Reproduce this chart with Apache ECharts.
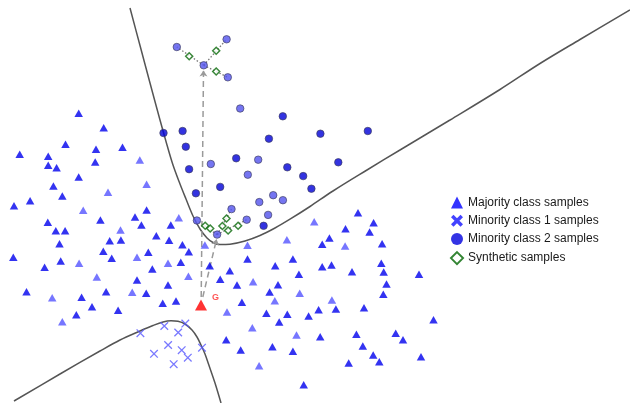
<!DOCTYPE html>
<html>
<head>
<meta charset="utf-8">
<script src="https://cdn.jsdelivr.net/npm/echarts@6/dist/echarts.min.js"></script>
<style>
  html, body { margin: 0; padding: 0; background: #fff; }
  #chart { width: 630px; height: 403px; }
</style>
</head>
<body>
<div id="chart"></div>
<script>
// Feature-space coordinates (x to the right, y downward).
const majorityDark = [
  [78.7,113.3],[103.7,127.7],[65.5,144.3],[96,149.3],[122.5,147.3],[19.7,154.3],[48.2,156.3],
  [48.2,165.3],[56.6,167.7],[95.2,162],[78.7,177],[53.4,186],[62.3,196],[14,205.7],[30.1,200.7],
  [146.6,210],[135,217],[141.4,225],[170.8,225],[100.4,220],[47.8,222.3],[55.8,230.7],[65.1,230.7],
  [59.5,243.7],[109.7,240.7],[120.9,240],[156.3,235.7],[169.1,240.3],[182.4,244.7],[13.3,257.3],
  [44.6,267.3],[60.7,261],[103.3,251.3],[111.7,258.3],[148.3,252.3],[180.8,262.3],[188.8,251.7],
  [152.3,269],[137,280],[168,285],[26.5,291.7],[81.6,297.3],[106.1,291.7],[146.2,293.3],[92,306.7],
  [76.3,314.7],[118.1,310.3],[162.7,303.3],[176,301],
  [358,212.7],[373.6,222.7],[345.5,228.7],[369.6,232],[329.4,238],[322.2,244.3],[382.1,243.7],
  [209.7,265.7],[229.8,270.7],[247.5,259],[275.2,265.7],[292.9,259],[298.9,274.3],[322.2,266.7],
  [331.5,265],[352,271.7],[381.3,263.3],[383.7,272],[386.5,284],[383.3,294.3],[419,274.3],
  [220.2,279.3],[237,285],[278,284.7],[269.6,292],[241.9,302.3],[266.4,313.3],[279.2,322],
  [287.3,314.3],[308.6,316],[318.6,309.7],[335.9,309],[364,307.7],[433.5,319.7],[320.2,336.7],
  [356.4,334.3],[395.7,333.3],[403,339.7],[362.8,346],[226.2,339.7],[240.7,350],[272.4,346.7],
  [292.9,351.3],[348.7,363],[373.2,355],[379.3,361.7],[421,356.7],[303.7,384.7]
];
const majorityLight = [
  [139.8,160],[146.6,184.3],[108,192.3],[83.2,210.3],[178.8,217.7],[120.5,230],[204.9,245],
  [79.1,263.3],[137,257.3],[168,263.3],[96.8,277],[188.4,276.3],[52.2,297.7],[132.2,292.3],
  [62.3,321.7],[247.5,245.3],[286.9,239.7],[314.2,221.7],[345.1,246],[253.1,281.7],[299.7,293.3],
  [274.8,300.7],[227,312],[331.9,300],[252.3,327.7],[296.5,335],[259.1,365.7]
];
const minority1 = [
  [140.4,333.2],[164.3,326],[178.2,332.5],[185.3,323.6],[168.1,345],[154,353.8],
  [181.7,350.2],[187.8,357.7],[173.7,364.2],[202,347.7]
];
const minority2Dark = [
  [282.8,116.3],[163.5,133],[182.6,131],[185.8,146.7],[268.9,138.7],[320.4,133.7],[367.8,131],
  [189.1,169.2],[236.2,158.3],[287.3,167.3],[303.2,176.1],[338.3,162.3],[195.9,193.3],
  [220.2,186.9],[311.4,188.7],[263.6,225.8]
];
const minority2Light = [
  [176.8,47],[226.6,39.3],[203.7,65.3],[227.8,77.3],[240.2,108.5],[210.8,164],[258.2,159.7],
  [247.8,174.7],[259.3,202.1],[273.2,195.2],[282.9,200.2],[231.5,209.1],[196.9,220.5],
  [246.7,219.7],[268.1,214.9],[217.1,234.6]
];
const synthetic = [
  [189.2,56.2],[216.2,50.8],[216.2,71.5],[205.2,225.7],[210.2,228.5],[226.5,218.5],
  [222.4,226],[228.1,230.5],[238.1,225.7]
];
const generated = [[201, 305]];
const generatedLabel = 'G';

// Links from G to the chosen minority samples, and the interpolation segments.
const arrowLinks = [
  [[201.2, 297], [203.5, 70.5]],
  [[202.8, 297], [216.6, 239]]
];
const interpolationLinks = [
  [[203.7,65.3],[176.8,47]], [[203.7,65.3],[226.6,39.3]], [[203.7,65.3],[227.8,77.3]],
  [[217.1,234.6],[196.9,220.5]], [[217.1,234.6],[231.5,209.1]], [[217.1,234.6],[246.7,219.7]]
];

// Class boundaries (two hyperbola branches).
const upperBoundary = [
  [130,8],[140,45.5],[150,83],[160,120],[167,145],[173,165],[180,184],[186,199],[193,216],
  [200,229],[207,238],[213,242.5],[220,244.6],[230,244.2],[245,241],[260,235.5],[275,228],
  [290,219.2],[310,206.5],[333,191],[367,170],[400,150],[450,120],[500,89.5],[540,63.5],
  [580,39.5],[630,10]
];
const lowerBoundary = [
  [14,401],[60,374],[100,351],[120,340],[140,331],[153,325.5],[163,322],[171,320.8],
  [178,321.3],[185,324],[192,330],[197,337],[201,345],[205,354],[208.5,364],[215,383],[221,403]
];

const legendNames = [
  'Majority class samples',
  'Minority class 1 samples',
  'Minority class 2 samples',
  'Synthetic samples'
];

const xThin = 'path://M0.6,-0.6L10.6,9.4L9.4,10.6L-0.6,0.6ZM9.4,-0.6L10.6,0.6L0.6,10.6L-0.6,9.4Z';
const xThick = 'path://M1.3,-1.3L11.3,8.7L8.7,11.3L-1.3,1.3ZM8.7,-1.3L11.3,1.3L1.3,11.3L-1.3,8.7Z';

const DARK_BLUE = '#0000ee';
const LIGHT_BLUE = '#5454ff';

const chart = echarts.init(document.getElementById('chart'), null, { renderer: 'canvas' });

function styled(points, color) {
  return points.map(p => ({ value: p, itemStyle: { color: color } }));
}

chart.setOption({
  animation: false,
  backgroundColor: '#ffffff',
  grid: { left: 0, right: 0, top: 0, bottom: 0 },
  xAxis: { type: 'value', min: 0, max: 630, show: false },
  yAxis: { type: 'value', min: 0, max: 403, inverse: true, show: false },
  legend: {
    orient: 'vertical',
    left: 450,
    top: 196.5,
    padding: 0,
    itemWidth: 12,
    itemHeight: 12,
    itemGap: 6.2,
    selectedMode: false,
    textStyle: { fontSize: 12, color: '#1a1a1a', fontFamily: '"Liberation Sans", Arial, sans-serif' },
    data: [
      { name: legendNames[0], icon: 'triangle', itemStyle: { color: '#0000ff' } },
      { name: legendNames[1], icon: xThick, itemStyle: { color: '#1414ff', borderWidth: 0 } },
      { name: legendNames[2], icon: 'circle', itemStyle: { color: '#0000dd', borderWidth: 0 } },
      { name: legendNames[3], icon: 'diamond', itemStyle: { color: '#ffffff', borderColor: '#006600', borderWidth: 2 } }
    ]
  },
  series: [
    {
      type: 'line',
      data: upperBoundary,
      smooth: 0.35,
      symbol: 'none',
      silent: true,
      z: 1,
      lineStyle: { color: '#555555', width: 1.5 }
    },
    {
      type: 'line',
      data: lowerBoundary,
      smooth: 0.35,
      symbol: 'none',
      silent: true,
      z: 1,
      lineStyle: { color: '#555555', width: 1.5 }
    },
    {
      type: 'lines',
      coordinateSystem: 'cartesian2d',
      z: 2,
      data: interpolationLinks.map(c => ({ coords: c })),
      lineStyle: { color: '#777777', width: 1.3, type: [1.5, 2], opacity: 1 }
    },
    {
      type: 'lines',
      coordinateSystem: 'cartesian2d',
      z: 2,
      symbol: ['none', 'arrow'],
      symbolSize: 6,
      data: arrowLinks.map(c => ({ coords: c })),
      lineStyle: { color: '#9a9a9a', width: 1.5, type: [6, 4], opacity: 1 }
    },
    {
      name: legendNames[0],
      type: 'scatter',
      symbol: 'triangle',
      symbolSize: [8.5, 7.5],
      z: 3,
      itemStyle: { color: DARK_BLUE },
      data: styled(majorityDark, DARK_BLUE).concat(styled(majorityLight, LIGHT_BLUE))
    },
    {
      name: legendNames[1],
      type: 'scatter',
      symbol: xThin,
      symbolSize: 8.5,
      z: 3,
      itemStyle: { color: '#5858ff' },
      data: minority1
    },
    {
      name: legendNames[2],
      type: 'scatter',
      symbol: 'circle',
      symbolSize: 7.5,
      z: 3,
      itemStyle: { color: '#0000d8', borderColor: '#3a3a5a', borderWidth: 0.8 },
      data: styled(minority2Dark, '#0000d8').concat(styled(minority2Light, '#5252ee'))
    },
    {
      name: legendNames[3],
      type: 'scatter',
      symbol: 'diamond',
      symbolSize: 7,
      z: 4,
      itemStyle: { color: '#ffffff', borderColor: '#0a6a0a', borderWidth: 1.5 },
      data: synthetic
    },
    {
      type: 'scatter',
      symbol: 'triangle',
      symbolSize: [12, 11],
      z: 4,
      itemStyle: { color: '#ff0000' },
      label: {
        show: true,
        formatter: generatedLabel,
        position: 'right',
        distance: 5,
        offset: [0, -7],
        color: '#ff2a2a',
        fontSize: 9,
        fontWeight: 'bold',
        fontFamily: '"Liberation Sans", Arial, sans-serif'
      },
      data: generated
    }
  ]
});
</script>
</body>
</html>
